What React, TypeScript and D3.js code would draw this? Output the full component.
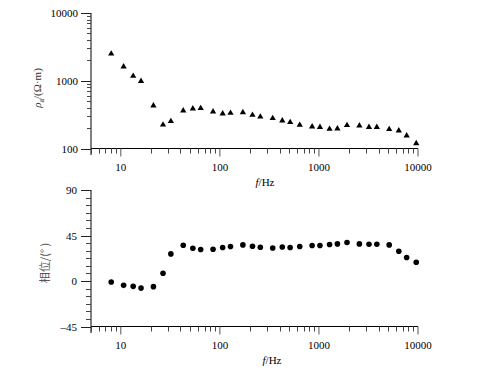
import * as d3 from "d3";

// frequencies (Hz)
const FREQS = [
  8, 10.67, 13.33, 16, 21.33, 26.67, 32, 42.67, 53.33, 64, 85.33, 106.67, 128,
  170.67, 213.33, 256, 341.33, 426.67, 512, 640, 853.33, 1024, 1280, 1536, 1920,
  2560, 3200, 3840, 5120, 6400, 7680, 9600,
];
// apparent resistivity (ohm-m)
const RHO = [
  2500, 1610, 1175, 985, 428, 224, 252, 361, 387, 392, 349, 326, 334, 342, 312,
  294, 279, 257, 244, 222, 210, 207, 194, 196, 220, 217, 207, 207, 192, 183, 155,
  119,
];
// phase (degrees)
const PHASE = [
  -1.0, -4.3, -5.3, -7.0, -5.6, 7.6, 26.8, 35.4, 32.4, 31.1, 31.4, 33.1, 34.1,
  35.7, 34.4, 33.4, 32.7, 33.7, 33.1, 34.1, 35.1, 35.1, 36.1, 36.7, 38.1, 36.7,
  36.4, 36.4, 35.7, 29.4, 23.2, 18.5,
];
const X_TICKS = [10, 100, 1000, 10000];
const RHO_TICKS = [100, 1000, 10000];
const PHASE_TICKS = [-45, 0, 45, 90];

const W = 477;
const H = 373;
const serif = "'Liberation Serif', 'Times New Roman', serif";

const x = d3.scaleLog().domain([5, 10000]).range([91, 418]);
const yRho = d3.scaleLog().domain([100, 10000]).range([148.5, 13]);
const yPh = d3.scaleLinear().domain([-45, 90]).range([326.5, 190]);

// minor ticks of the log x axis: 5..9, 20..90, ...
const xMinor: number[] = [];
for (let dec = 1; dec <= 1000; dec *= 10)
  for (let m = 1; m <= 9; m++) {
    const v = m * dec;
    if (v >= 5 && !X_TICKS.includes(v)) xMinor.push(v);
  }
const rhoMinor: number[] = [];
for (let dec = 100; dec <= 1000; dec *= 10)
  for (let m = 2; m <= 9; m++) rhoMinor.push(m * dec);
const phMinor = d3.range(-45, 90.1, 7.5).filter((v) => v % 45 !== 0);

const tri = d3.symbol(d3.symbolTriangle, 17)()!;

function XAxis({ y0, labelX }: { y0: number; labelX: number }) {
  return (
    <g>
      <line x1={91} x2={418} y1={y0} y2={y0} stroke="#000" />
      {xMinor.map((v) => (
        <line
          key={v}
          x1={Math.round(x(v)) + 0.5}
          x2={Math.round(x(v)) + 0.5}
          y1={y0}
          y2={y0 + 5}
          stroke="#444"
        />
      ))}
      {X_TICKS.map((v) => (
        <g key={v}>
          <line x1={x(v)} x2={x(v)} y1={y0} y2={y0 + 8} stroke="#555" />
          <text
            x={x(v)}
            y={y0 + 22}
            textAnchor="middle"
            fontSize={11}
            fontFamily={serif}
          >
            {v}
          </text>
        </g>
      ))}
      <text x={labelX} y={y0 + 37} textAnchor="middle" fontSize={11} fontFamily={serif}>
        <tspan fontStyle="italic">f</tspan>/Hz
      </text>
    </g>
  );
}

export default function App() {
  return (
    <svg
      width={W}
      height={H}
      style={{ position: "absolute", left: 0, top: 0, background: "#fff" }}
    >
      {/* top panel: apparent resistivity */}
      <line x1={91} x2={91} y1={13} y2={155} stroke="#000" />
      {rhoMinor.map((v) => (
        <line
          key={v}
          x1={87}
          x2={91}
          y1={Math.round(yRho(v)) + 0.5}
          y2={Math.round(yRho(v)) + 0.5}
          stroke="#444"
        />
      ))}
      {RHO_TICKS.map((v) => (
        <g key={v}>
          <line
            x1={81}
            x2={91}
            y1={Math.round(yRho(v)) + 0.5}
            y2={Math.round(yRho(v)) + 0.5}
            stroke="#222"
          />
          <text
            x={78}
            y={yRho(v) + 4}
            textAnchor="end"
            fontSize={11}
            fontFamily={serif}
          >
            {v}
          </text>
        </g>
      ))}
      <XAxis y0={148.5} labelX={265} />
      <text
        transform="translate(41,88) rotate(-90)"
        textAnchor="middle"
        fontSize={11}
        fontFamily={serif}
        fill="#333"
      >
        <tspan fontStyle="italic">ρ</tspan>
        <tspan fontSize={8} dy={3}>
          a
        </tspan>
        <tspan dy={-3}>/(Ω·m)</tspan>
      </text>
      {FREQS.map((f, i) => (
        <path
          key={f}
          d={tri}
          transform={`translate(${x(f)},${yRho(RHO[i])})`}
          fill="#000"
        />
      ))}

      {/* bottom panel: phase */}
      <line x1={91} x2={91} y1={190} y2={333} stroke="#000" />
      {phMinor.map((v) => (
        <line
          key={v}
          x1={86}
          x2={91}
          y1={Math.round(yPh(v)) + 0.5}
          y2={Math.round(yPh(v)) + 0.5}
          stroke="#444"
        />
      ))}
      {PHASE_TICKS.map((v) => (
        <g key={v}>
          <line
            x1={81}
            x2={91}
            y1={Math.round(yPh(v)) + 0.5}
            y2={Math.round(yPh(v)) + 0.5}
            stroke="#222"
          />
          <text
            x={77}
            y={yPh(v) + 4}
            textAnchor="end"
            fontSize={11}
            fontFamily={serif}
          >
            {v < 0 ? `\u2013${-v}` : v}
          </text>
        </g>
      ))}
      <XAxis y0={326.5} labelX={272} />
      <text
        transform="translate(49,263) rotate(-90)"
        textAnchor="middle"
        fontSize={11}
        fontFamily="'Noto Sans CJK SC', sans-serif"
        fill="#555"
      >
        相位/(° )
      </text>
      {FREQS.map((f, i) => (
        <circle key={f} cx={x(f)} cy={yPh(PHASE[i])} r={2.8} fill="#000" />
      ))}
    </svg>
  );
}
